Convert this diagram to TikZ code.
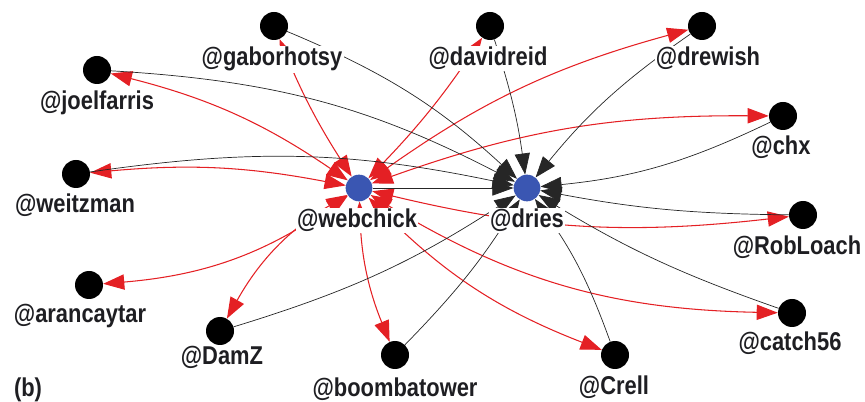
\documentclass[tikz,border=0pt]{standalone}
\usepackage{fontspec}
\setmainfont{Liberation Sans}[FakeStretch=0.85]
\usetikzlibrary{arrows.meta}

\definecolor{replyred}{RGB}{228,32,36}
\definecolor{hubblue}{RGB}{58,86,178}
\definecolor{handletext}{RGB}{30,30,34}

\tikzset{
  user/.style={circle, fill=black, minimum size=0.84cm, inner sep=0pt},
  hub/.style={circle, fill=hubblue, minimum size=0.8cm, inner sep=0pt},
  handle/.style={font=\bfseries\fontsize{22}{24}\selectfont, text=handletext, anchor=base, inner sep=1pt, fill=white},
  reply/.style={replyred, line width=0.9pt, {Triangle[length=18pt,width=13pt]}-{Triangle[length=18pt,width=13pt]}},
  mention/.style={black!85, line width=0.6pt, -{Triangle[length=18pt,width=13pt]}},
}

\begin{document}
\begin{tikzpicture}[x=0.03cm, y=-0.03cm]
    \useasboundingbox (0,0) rectangle (865,402);
    % the two hubs
    \node[hub] (webchick) at (359,188) {};
    \node[hub] (dries) at (527,188) {};
    % the other accounts
    \node[user] (gaborhotsy) at (274,26) {};
    \node[user] (davidreid) at (490,26) {};
    \node[user] (drewish) at (702,26) {};
    \node[user] (joelfarris) at (97,70) {};
    \node[user] (chx) at (783,116) {};
    \node[user] (weitzman) at (76,174) {};
    \node[user] (robloach) at (803,215) {};
    \node[user] (arancaytar) at (89,285) {};
    \node[user] (catch56) at (792,313) {};
    \node[user] (damz) at (220,331) {};
    \node[user] (boombatower) at (395,355) {};
    \node[user] (crell) at (615,355) {};

    % webchick's replies (red)
    \draw[reply] (webchick) to[bend right=10] (joelfarris);
    \draw[reply] (webchick) to[bend right=8] (weitzman);
    \draw[reply] (webchick) to[bend left=15] (arancaytar);
    \draw[reply] (webchick) to[bend right=15] (damz);
    \draw[reply] (webchick) to[bend right=10] (boombatower);
    \draw[reply] (webchick) to[bend right=12] (crell);
    \draw[reply] (webchick) to[bend right=15] (catch56);
    \draw[reply] (webchick) to[bend right=10] (robloach);
    \draw[reply] (webchick) to[bend left=10] (chx);
    \draw[reply] (webchick) to[bend left=10] (drewish);
    \draw[reply] (webchick) to[bend right=5] (davidreid);
    \draw[reply] (webchick) to[bend left=5] (gaborhotsy);

    % mentions of dries (black)
    \draw[mention] (gaborhotsy) to[bend left=10] (dries);
    \draw[mention] (davidreid) to[bend left=5] (dries);
    \draw[mention] (drewish) to[bend right=8] (dries);
    \draw[mention] (chx) to[bend left=10] (dries);
    \draw[mention] (robloach) to[bend left=5] (dries);
    \draw[mention] (catch56) to[bend left=6] (dries);
    \draw[mention] (crell) to[bend right=8] (dries);
    \draw[mention] (boombatower) to[bend right=6] (dries);
    \draw[mention] (damz) to[bend right=8] (dries);
    \draw[mention] (weitzman) to[bend left=10] (dries);
    \draw[mention] (joelfarris) to[bend left=12] (dries);
    \draw[mention] (webchick) to (dries);

    % handles
    \node[handle] (webchickL) at (357,228) {@webchick};
    \node[handle] (driesL) at (527,228) {@dries};
    \node[handle] (gaborhotsyL) at (272,66) {@gaborhotsy};
    \node[handle] (davidreidL) at (488,66) {@davidreid};
    \node[handle] (drewishL) at (708,66) {@drewish};
    \node[handle] (joelfarrisL) at (97,110) {@joelfarris};
    \node[handle] (chxL) at (781,155) {@chx};
    \node[handle] (weitzmanL) at (75,213) {@weitzman};
    \node[handle] (robloachL) at (797,255) {@RobLoach};
    \node[handle] (arancaytarL) at (80,323) {@arancaytar};
    \node[handle] (catch56L) at (790,351) {@catch56};
    \node[handle] (damzL) at (222,365) {@DamZ};
    \node[handle] (boombatowerL) at (395,396) {@boombatower};
    \node[handle] (crellL) at (614,395) {@Crell};
    \node[handle, fill=none] (panel) at (28,396) {(b)};
\end{tikzpicture}
\end{document}
